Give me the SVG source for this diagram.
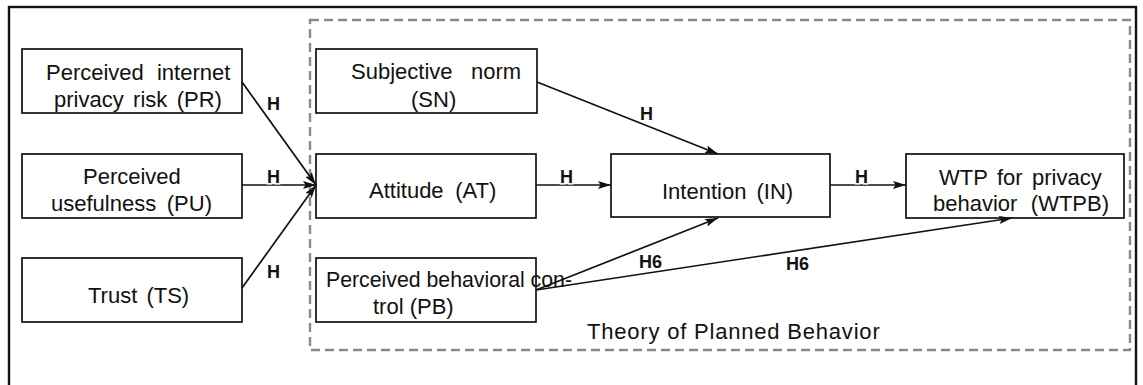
<svg xmlns="http://www.w3.org/2000/svg" width="1143" height="385" viewBox="0 0 1143 385">
<style>
.box{fill:#fff;stroke:#111;stroke-width:1.7}
.t{font-family:"Liberation Sans",Arial,sans-serif;font-size:22px;fill:#111}
.h{font-family:"Liberation Sans",Arial,sans-serif;font-size:18px;font-weight:bold;fill:#111;stroke:#fff;stroke-width:3;paint-order:stroke}
.c{fill:none;stroke:#111;stroke-width:1.7;marker-end:url(#ah)}
</style>
<defs>
<marker id="ah" viewBox="0 0 13 8" refX="13" refY="4" markerWidth="13" markerHeight="8" orient="auto" markerUnits="userSpaceOnUse"><path d="M0,0 L13,4 L0,8 L2.5,4 z" fill="#111"/></marker>
</defs>
<rect width="1143" height="385" fill="#fff"/>
<rect id="frame" x="9" y="7" width="1127" height="400" fill="none" stroke="#111" stroke-width="2.4"/>
<g id="tpb">
<rect x="310" y="20" width="820" height="330" fill="none" stroke="#8a8a8a" stroke-width="2.4" stroke-dasharray="9 5"/>
<text class="t" x="587" y="339" letter-spacing="0.8">Theory of Planned Behavior</text>
</g>
<g id="PR"><rect class="box" x="22" y="49" width="220" height="64"/>
<text class="t" x="46" y="80" word-spacing="7">Perceived internet</text>
<text class="t" x="54" y="107" word-spacing="3.3">privacy risk (PR)</text></g>
<g id="PU"><rect class="box" x="22" y="154" width="220" height="64"/>
<text class="t" x="83" y="184">Perceived</text>
<text class="t" x="51" y="211" word-spacing="4.5">usefulness (PU)</text></g>
<g id="TS"><rect class="box" x="22" y="258" width="220" height="64"/>
<text class="t" x="88" y="303" word-spacing="3">Trust (TS)</text></g>
<g id="SN"><rect class="box" x="316" y="49" width="221" height="64"/>
<text class="t" x="351" y="79" word-spacing="12.3">Subjective norm</text>
<text class="t" x="411" y="107">(SN)</text></g>
<g id="AT"><rect class="box" x="316" y="154" width="220" height="64"/>
<text class="t" x="369" y="198" word-spacing="5.5">Attitude (AT)</text></g>
<g id="PB"><rect class="box" x="316" y="258" width="220" height="64"/>
<text class="t" x="326" y="287" textLength="246" lengthAdjust="spacingAndGlyphs">Perceived behavioral con-</text>
<text class="t" x="373" y="314">trol (PB)</text></g>
<g id="IN"><rect class="box" x="611" y="154" width="219" height="63"/>
<text class="t" x="662" y="199" word-spacing="4">Intention (IN)</text></g>
<g id="WTPB"><rect class="box" x="906" y="154" width="218" height="64"/>
<text class="t" x="939" y="185" word-spacing="3.3">WTP for privacy</text>
<text class="t" x="933" y="211" word-spacing="7.3">behavior (WTPB)</text></g>
<g id="connectors">
<path class="c" d="M242,82 L316,185"/>
<path class="c" d="M242,185 L316,185"/>
<path class="c" d="M242,288 L316,185"/>
<path class="c" d="M537,82 L718,154"/>
<path class="c" d="M536,185 L611,185"/>
<path class="c" d="M830,185 L906,185"/>
<path class="c" d="M536,290 L718,218"/>
<path class="c" d="M536,290 L1012,218"/>
<text class="h" x="267" y="110">H</text>
<text class="h" x="267" y="183">H</text>
<text class="h" x="267" y="278">H</text>
<text class="h" x="640" y="120">H</text>
<text class="h" x="560" y="183">H</text>
<text class="h" x="855" y="183">H</text>
<text class="h" x="639" y="268">H6</text>
<text class="h" x="786" y="270">H6</text>
</g>
</svg>
